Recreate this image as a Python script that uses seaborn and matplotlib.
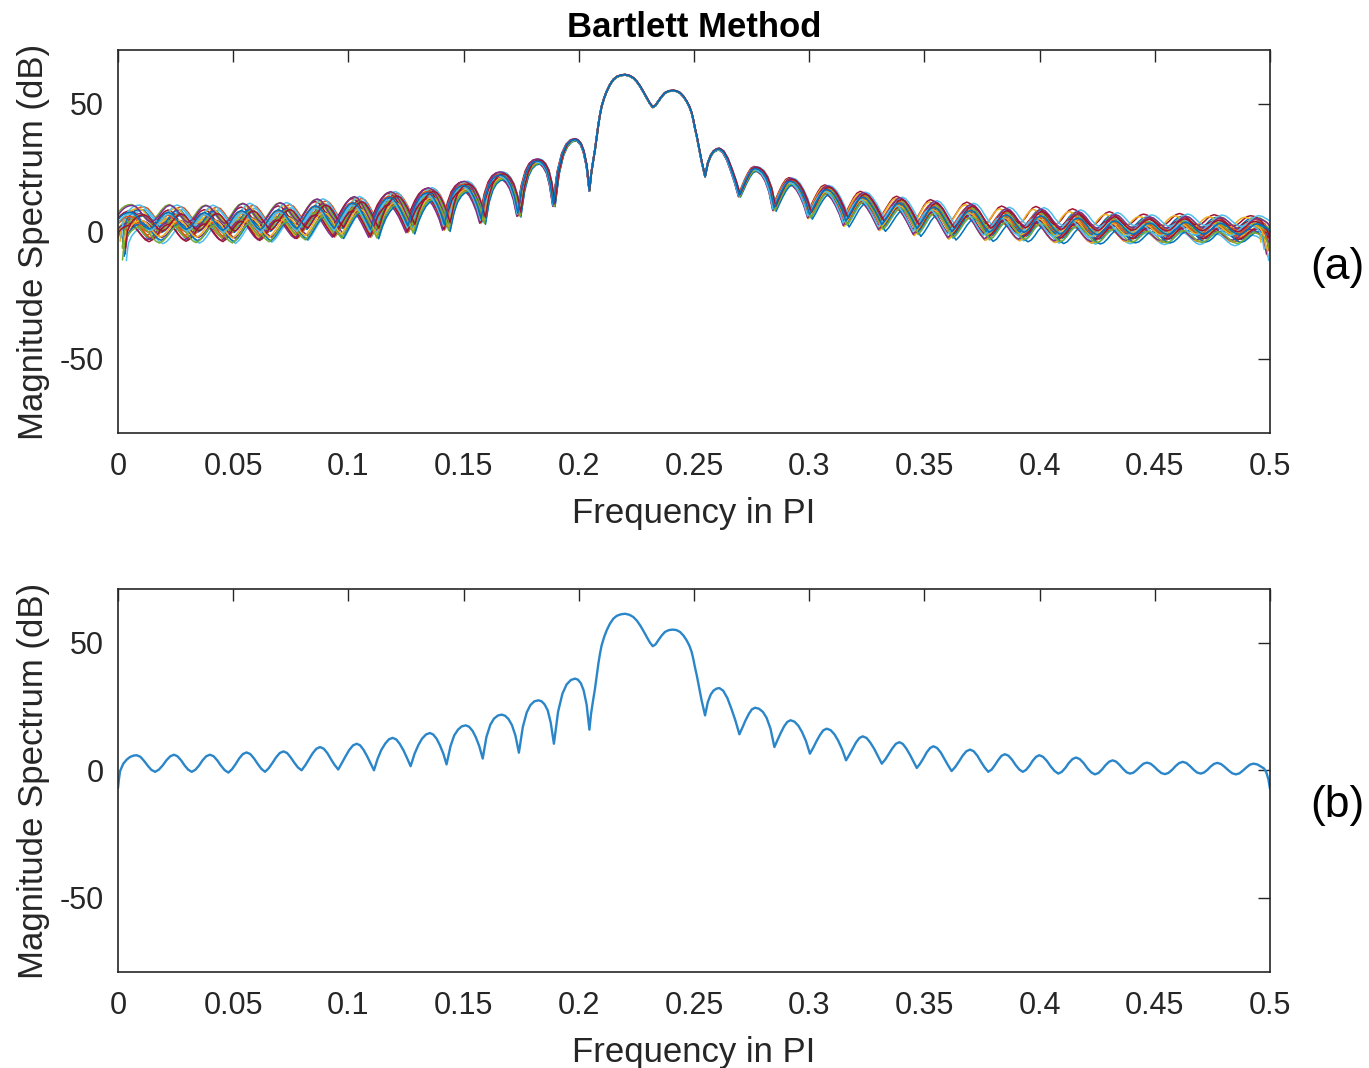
import numpy as np
import pandas as pd
import matplotlib
matplotlib.use("Agg")
import matplotlib.pyplot as plt
import seaborn as sns

# ---------------- data ----------------
# Averaged (Bartlett) spectrum, panel (b): frequency in PI and magnitude in dB
freq = [
    0.0000, 0.0004, 0.0009,
    0.0023, 0.0038, 0.0052, 0.0067, 0.0081,
    0.0097, 0.0113, 0.0129, 0.0145, 0.0161,
    0.0177, 0.0194, 0.0210, 0.0227, 0.0243,
    0.0258, 0.0274, 0.0289, 0.0305, 0.0320,
    0.0336, 0.0352, 0.0367, 0.0383, 0.0399,
    0.0415, 0.0431, 0.0447, 0.0463, 0.0479,
    0.0495, 0.0511, 0.0526, 0.0542, 0.0558,
    0.0574, 0.0590, 0.0606, 0.0622, 0.0638,
    0.0654, 0.0670, 0.0686, 0.0702, 0.0718,
    0.0734, 0.0749, 0.0765, 0.0781, 0.0797,
    0.0813, 0.0829, 0.0845, 0.0861, 0.0877,
    0.0893, 0.0909, 0.0924, 0.0940, 0.0956,
    0.0972, 0.0988, 0.1004, 0.1020, 0.1036,
    0.1051, 0.1066, 0.1081, 0.1096, 0.1111,
    0.1127, 0.1143, 0.1160, 0.1176, 0.1192,
    0.1208, 0.1223, 0.1239, 0.1254, 0.1270,
    0.1287, 0.1304, 0.1320, 0.1337, 0.1354,
    0.1368, 0.1383, 0.1397, 0.1412, 0.1426,
    0.1443, 0.1459, 0.1476, 0.1492, 0.1509,
    0.1524, 0.1539, 0.1553, 0.1568, 0.1583,
    0.1599, 0.1616, 0.1632, 0.1649, 0.1665,
    0.1680, 0.1695, 0.1710, 0.1725, 0.1740,
    0.1757, 0.1774, 0.1790, 0.1807, 0.1824,
    0.1838, 0.1851, 0.1865, 0.1878, 0.1892,
    0.1910, 0.1929, 0.1947, 0.1966, 0.1984,
    0.1996, 0.2009, 0.2021, 0.2034, 0.2046,
    0.2053, 0.2061, 0.2070, 0.2078, 0.2085, 0.2092, 0.2099, 0.2110,
    0.2121, 0.2135, 0.2150, 0.2165, 0.2183, 0.2201, 0.2220, 0.2237,
    0.2252, 0.2266, 0.2281, 0.2295, 0.2309, 0.2321, 0.2333, 0.2345,
    0.2360, 0.2374, 0.2391, 0.2408, 0.2424, 0.2439, 0.2454, 0.2468,
    0.2480, 0.2490, 0.2497, 0.2504, 0.2512, 0.2519, 0.2526, 0.2533,
    0.2541, 0.2548,
    0.2560, 0.2573, 0.2585, 0.2598, 0.2610,
    0.2627, 0.2645, 0.2662, 0.2680, 0.2697,
    0.2711, 0.2724, 0.2738, 0.2751, 0.2765,
    0.2782, 0.2799, 0.2815, 0.2832, 0.2849,
    0.2863, 0.2877, 0.2891, 0.2905, 0.2919,
    0.2936, 0.2953, 0.2969, 0.2986, 0.3003,
    0.3018, 0.3032, 0.3047, 0.3061, 0.3076,
    0.3093, 0.3110, 0.3126, 0.3143, 0.3160,
    0.3174, 0.3189, 0.3203, 0.3218, 0.3232,
    0.3249, 0.3265, 0.3282, 0.3298, 0.3315,
    0.3330, 0.3345, 0.3361, 0.3376, 0.3391,
    0.3406, 0.3421, 0.3437, 0.3452, 0.3467,
    0.3481, 0.3496, 0.3510, 0.3525, 0.3539,
    0.3555, 0.3571, 0.3586, 0.3602, 0.3618,
    0.3634, 0.3650, 0.3666, 0.3682, 0.3698,
    0.3714, 0.3730, 0.3745, 0.3761, 0.3777,
    0.3792, 0.3806, 0.3821, 0.3835, 0.3850,
    0.3865, 0.3881, 0.3896, 0.3912, 0.3927,
    0.3941, 0.3956, 0.3970, 0.3985, 0.3999,
    0.4015, 0.4032, 0.4048, 0.4065, 0.4081,
    0.4096, 0.4112, 0.4127, 0.4143, 0.4158,
    0.4174, 0.4191, 0.4207, 0.4224, 0.4240,
    0.4255, 0.4271, 0.4286, 0.4302, 0.4317,
    0.4332, 0.4347, 0.4363, 0.4378, 0.4393,
    0.4408, 0.4422, 0.4437, 0.4451, 0.4466,
    0.4482, 0.4497, 0.4513, 0.4528, 0.4544,
    0.4559, 0.4575, 0.4590, 0.4606, 0.4621,
    0.4637, 0.4652, 0.4668, 0.4683, 0.4699,
    0.4713, 0.4728, 0.4742, 0.4757, 0.4771,
    0.4787, 0.4803, 0.4820, 0.4836, 0.4852,
    0.4867, 0.4882, 0.4898, 0.4913, 0.4928,
    0.4945, 0.4960, 0.4974, 0.4984, 0.4993, 0.5000,
]
mag_db = [
    -7.0, -3.5, -0.3,
    2.6, 4.2, 5.2, 5.75, 5.9,
    5.3, 3.7, 1.8, 0.15, -0.6,
    0.22, 1.9, 3.9, 5.5, 6.1,
    5.5, 3.9, 1.9, 0.22, -0.6,
    0.22, 1.9, 3.9, 5.5, 6.1,
    5.5, 3.86, 1.8, 0.05, -0.9,
    0.44, 2.47, 4.65, 6.36, 7.0,
    6.37, 4.69, 2.54, 0.6, -0.6,
    0.79, 2.84, 5.05, 6.76, 7.4,
    6.77, 5.11, 3.0, 1.11, 0.0,
    1.98, 4.33, 6.68, 8.44, 9.1,
    8.45, 6.69, 4.38, 2.11, 0.3,
    2.9, 5.54, 7.98, 9.75, 10.4,
    9.76, 7.98, 5.53, 2.8, 0.0,
    4.57, 8.0, 10.48, 12.13, 12.7,
    12.07, 10.31, 7.83, 4.9, 1.6,
    6.44, 9.95, 12.43, 14.04, 14.6,
    14.01, 12.34, 9.84, 6.53, 2.3,
    9.38, 13.62, 15.95, 17.2, 17.6,
    17.04, 15.43, 12.95, 9.44, 4.6,
    13.03, 17.84, 20.25, 21.46, 21.8,
    21.37, 20.04, 17.67, 13.56, 6.9,
    16.94, 22.68, 25.55, 26.99, 27.4,
    27.06, 25.87, 23.49, 18.73, 10.4,
    22.9, 30.03, 33.6, 35.39, 35.9,
    35.5, 34.1, 31.3, 25.7, 15.9,
    22.0, 26.8, 31.8, 37.0, 41.8, 45.7, 48.9, 52.2,
    54.8, 57.4, 59.4, 60.5, 61.1, 61.3, 60.9, 60.0,
    58.6, 56.8, 54.5, 52.2, 50.0, 48.6, 49.3, 50.9,
    52.8, 54.2, 54.9, 55.1, 54.9, 54.2, 52.8, 50.9,
    48.8, 46.3, 43.6, 40.4, 37.2, 33.9, 30.7, 27.4,
    24.3, 21.5,
    26.74, 29.74, 31.24, 31.99, 32.2,
    31.15, 28.25, 24.18, 19.4, 14.1,
    16.9, 19.63, 22.08, 23.86, 24.5,
    24.11, 22.87, 20.56, 16.29, 9.1,
    11.97, 14.73, 17.18, 18.96, 19.6,
    19.05, 17.45, 14.96, 11.43, 6.5,
    8.9, 11.46, 13.87, 15.64, 16.3,
    15.72, 14.04, 11.55, 8.22, 3.9,
    6.05, 8.5, 10.87, 12.64, 13.3,
    12.66, 10.88, 8.43, 5.61, 2.6,
    4.2, 6.35, 8.61, 10.35, 11.0,
    10.35, 8.58, 6.14, 3.5, 0.9,
    2.55, 4.73, 7.01, 8.75, 9.4,
    8.74, 6.97, 4.57, 2.04, -0.3,
    1.3, 3.45, 5.71, 7.45, 8.1,
    7.45, 5.7, 3.4, 1.16, -0.6,
    0.3, 2.04, 4.08, 5.69, 6.3,
    5.69, 4.08, 2.04, 0.3, -0.6,
    0.15, 1.78, 3.74, 5.3, 5.9,
    5.27, 3.63, 1.55, -0.28, -1.3,
    -0.63, 0.96, 2.88, 4.41, 5.0,
    4.4, 2.82, 0.84, -0.81, -1.6,
    -1.08, 0.3, 2.0, 3.37, 3.9,
    3.4, 2.11, 0.49, -0.81, -1.3,
    -0.89, 0.18, 1.52, 2.59, 3.0,
    2.57, 1.45, 0.05, -1.07, -1.5,
    -1.04, 0.16, 1.64, 2.84, 3.3,
    2.86, 1.71, 0.29, -0.86, -1.3,
    -0.9, 0.15, 1.45, 2.5, 2.9,
    2.47, 1.35, -0.05, -1.17, -1.6,
    -1.2, -0.15, 1.15, 2.2, 2.6,
    2.3, 1.5, 0.7, -0.8, -3.5, -7.2,
]
assert len(freq) == len(mag_db)

# Panel (a): the individual segment periodograms scatter around the average.
spread_f = [0.0, 0.08, 0.14, 0.17, 0.19, 0.205, 0.255, 0.27, 0.29, 0.33, 0.40, 0.50]
spread_db = [2.6, 2.5, 1.7, 1.0, 0.5, 0.1, 0.1, 0.5, 1.0, 1.9, 3.0, 3.2]
# per-curve level offset, slope, bow and frequency jitter (estimated)
curve_offset = [0.6, -0.9, 0.3, -0.4, 1.1, -1.2, 0.0,
                -0.7, 0.9, -1.1, 0.7, -0.3, 0.4, 1.2,
                0.1, -0.3, 1.0, -1.0, 0.5, 1.3, -0.8,
                -1.3, 0.4, -0.5, 1.2, -1.1, -0.2, 0.6, 0.2]
curve_slope = [0.8, -0.5, 0.2, 0.9, -0.9, 0.4, -0.2,
               0.6, -0.8, 0.1, -0.4, 1.0, -0.7, 0.3,
               -1.0, 0.7, -0.3, 0.5, 0.0, -0.6, 0.9,
               0.3, -0.1, 0.8, -0.9, 0.6, -0.4, 0.2, -0.5]
curve_bow = [-0.4, 0.7, -0.9, 0.2, 0.5, -0.6, 1.0,
             -0.2, 0.3, 0.8, -1.0, 0.0, 0.6, -0.5,
             0.9, -0.8, 0.1, 0.4, -0.7, 0.2, -0.3,
             0.7, -0.9, 0.5, 0.0, -0.4, 0.8, -0.6, 0.3]
curve_jitter = [0.5, -0.9, 0.2, 1.0, -0.3, 0.7, -1.0,
                0.0, 0.8, -0.6, 0.4, -0.2, 0.9, -0.8,
                0.6, 0.1, -0.5, -1.0, 0.3, 0.7, -0.4,
                1.0, -0.7, 0.2, -0.1, 0.5, -0.9, 0.8, -0.3]
curve_jitter_slope = [-0.9, 0.6, 1.0, -0.4, 0.8, -1.0, 0.3,
                      0.9, -0.7, 0.2, -0.5, 1.0, -0.8, 0.4,
                      -0.3, 0.7, -1.0, 0.5, -0.6, 0.1, 0.9,
                      -0.2, 0.6, -0.9, 0.8, -0.4, 0.0, -0.7, 1.0]

matlab_colors = ["#0072BD", "#D95319", "#EDB120", "#7E2F8E",
                 "#77AC30", "#4DBEEE", "#A2142F"]

xticks = [0, 0.05, 0.1, 0.15, 0.2, 0.25, 0.3, 0.35, 0.4, 0.45, 0.5]
xtick_labels = ["0", "0.05", "0.1", "0.15", "0.2", "0.25", "0.3",
                "0.35", "0.4", "0.45", "0.5"]
yticks = [-50, 0, 50]
ytick_labels = ["-50", "0", "50"]

# ---------------- bundle for panel (a) ----------------
f_arr = np.array(freq)
m_arr = np.array(mag_db)
sp = np.interp(f_arr, spread_f, spread_db)
u = (f_arr - 0.25) / 0.25
rows = []
for k in range(len(curve_offset)):
    dev = sp * (curve_offset[k] + 0.5 * curve_slope[k] * u
                + 0.8 * curve_bow[k] * (u ** 2 - 1 / 3))
    shift = 0.0028 * sp / max(spread_db) * (curve_jitter[k]
                                           + 0.9 * curve_jitter_slope[k] * u)
    rows.append(pd.DataFrame({"freq": f_arr + shift, "dB": m_arr + dev,
                              "curve": k}))
df_top = pd.concat(rows, ignore_index=True)
df_bot = pd.DataFrame({"freq": freq, "dB": mag_db})

# ---------------- figure ----------------
sns.set_style("white")
plt.rcParams["font.family"] = ["Liberation Sans", "DejaVu Sans"]
axis_col = "#262626"

W, H = 1369, 1068
fig = plt.figure(figsize=(W / 100, H / 100), dpi=100)
ax1 = fig.add_axes([118 / W, 1 - 433 / H, 1152 / W, 383 / H])
ax2 = fig.add_axes([118 / W, 1 - 972 / H, 1152 / W, 383 / H])

palette = [matlab_colors[k % 7] for k in range(len(curve_offset))]
sns.lineplot(data=df_top, x="freq", y="dB", hue="curve", palette=palette,
             estimator=None, sort=False, legend=False, lw=1.1, ax=ax1)
sns.lineplot(data=df_bot, x="freq", y="dB", color="#2a86c9",
             estimator=None, sort=False, lw=1.7, ax=ax2)

for ax in (ax1, ax2):
    ax.set_xlim(0, 0.5)
    ax.set_ylim(-79, 71)
    ax.set_xticks(xticks)
    ax.set_xticklabels(xtick_labels)
    ax.set_yticks(yticks)
    ax.set_yticklabels(ytick_labels)
    ax.tick_params(axis="both", direction="in", top=True, right=True,
                   length=8.3, width=1.0, color=axis_col, labelcolor=axis_col,
                   labelsize=22)
    ax.tick_params(axis="x", pad=13.5)
    ax.tick_params(axis="y", pad=10)
    for s in ax.spines.values():
        s.set_visible(True)
        s.set_color(axis_col)
        s.set_linewidth(1.2)
    ax.set_xlabel("Frequency in PI", fontsize=25, color=axis_col)
    ax.set_ylabel("Magnitude Spectrum (dB)", fontsize=25, color=axis_col)
    ax.xaxis.set_label_coords(0.5, -0.168)
    ax.yaxis.set_label_coords(-0.059, 0.5)
    ax.grid(False)

fig.text(694 / W, 1 - 37 / H, "Bartlett Method", ha="center", va="baseline",
         fontsize=25, fontweight="bold", color="black")
fig.text(1337 / W, 1 - 268 / H, "(a)", ha="center", va="center",
         fontsize=32, color="black")
fig.text(1337 / W, 1 - 806 / H, "(b)", ha="center", va="center",
         fontsize=32, color="black")

fig.savefig("out.png", dpi=100, facecolor="white")
